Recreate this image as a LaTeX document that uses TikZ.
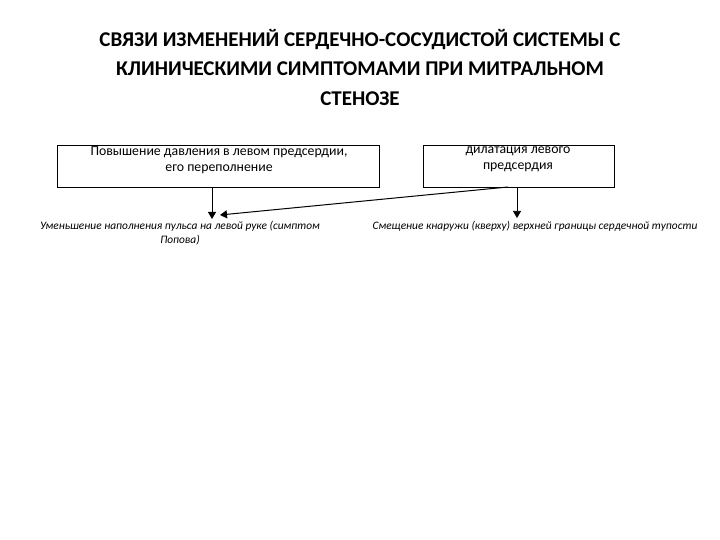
\documentclass[tikz,border=0pt]{standalone}
\usepackage{fontspec}
\setmainfont{Carlito}
\usetikzlibrary{arrows.meta}
\begin{document}
\begin{tikzpicture}[x=1pt,y=-1pt,
  box/.style={draw,line width=0.8pt,inner sep=0pt},
  btxt/.style={align=center,font=\fontsize{13.8}{16}\selectfont,anchor=north},
  lab/.style={align=center,font=\fontsize{11.4}{14}\selectfont\itshape},
  arr/.style={-{Triangle[length=7pt,width=8pt]},line width=1pt}]
\useasboundingbox (0,0) rectangle (720,540);
\node[align=center,font=\fontsize{21}{29.5}\selectfont\bfseries] (title) at (360,67)
  {СВЯЗИ ИЗМЕНЕНИЙ СЕРДЕЧНО-СОСУДИСТОЙ СИСТЕМЫ С\\КЛИНИЧЕСКИМИ СИМПТОМАМИ ПРИ МИТРАЛЬНОМ\\СТЕНОЗЕ};
\node[box,minimum width=322pt,minimum height=42pt,anchor=north west] (b1) at (57,145) {};
\node[box,minimum width=191pt,minimum height=42pt,anchor=north west] (b2) at (423,145) {};
\node[btxt] (t1) at (219,143) {Повышение давления в левом предсердии,\\его переполнение};
\node[btxt] (t2) at (518,143) {дилатация левого\\предсердия};
\node[lab,anchor=north] (l1) at (180,218) {Уменьшение наполнения пульса на левой руке (симптом\\Попова)};
\node[lab,anchor=north] (l2) at (535,218) {Смещение кнаружи (кверху) верхней границы сердечной тупости};
\coordinate (a1) at (212,187);
\coordinate (e1) at (212,219);
\coordinate (a2) at (508,187);
\coordinate (e2) at (220,215);
\coordinate (a3) at (517,187);
\coordinate (e3) at (517,218);
\draw[arr] (a1) -- (e1);
\draw[arr] (a2) -- (e2);
\draw[arr,line width=0.6pt] (a3) -- (e3);
\end{tikzpicture}
\end{document}
